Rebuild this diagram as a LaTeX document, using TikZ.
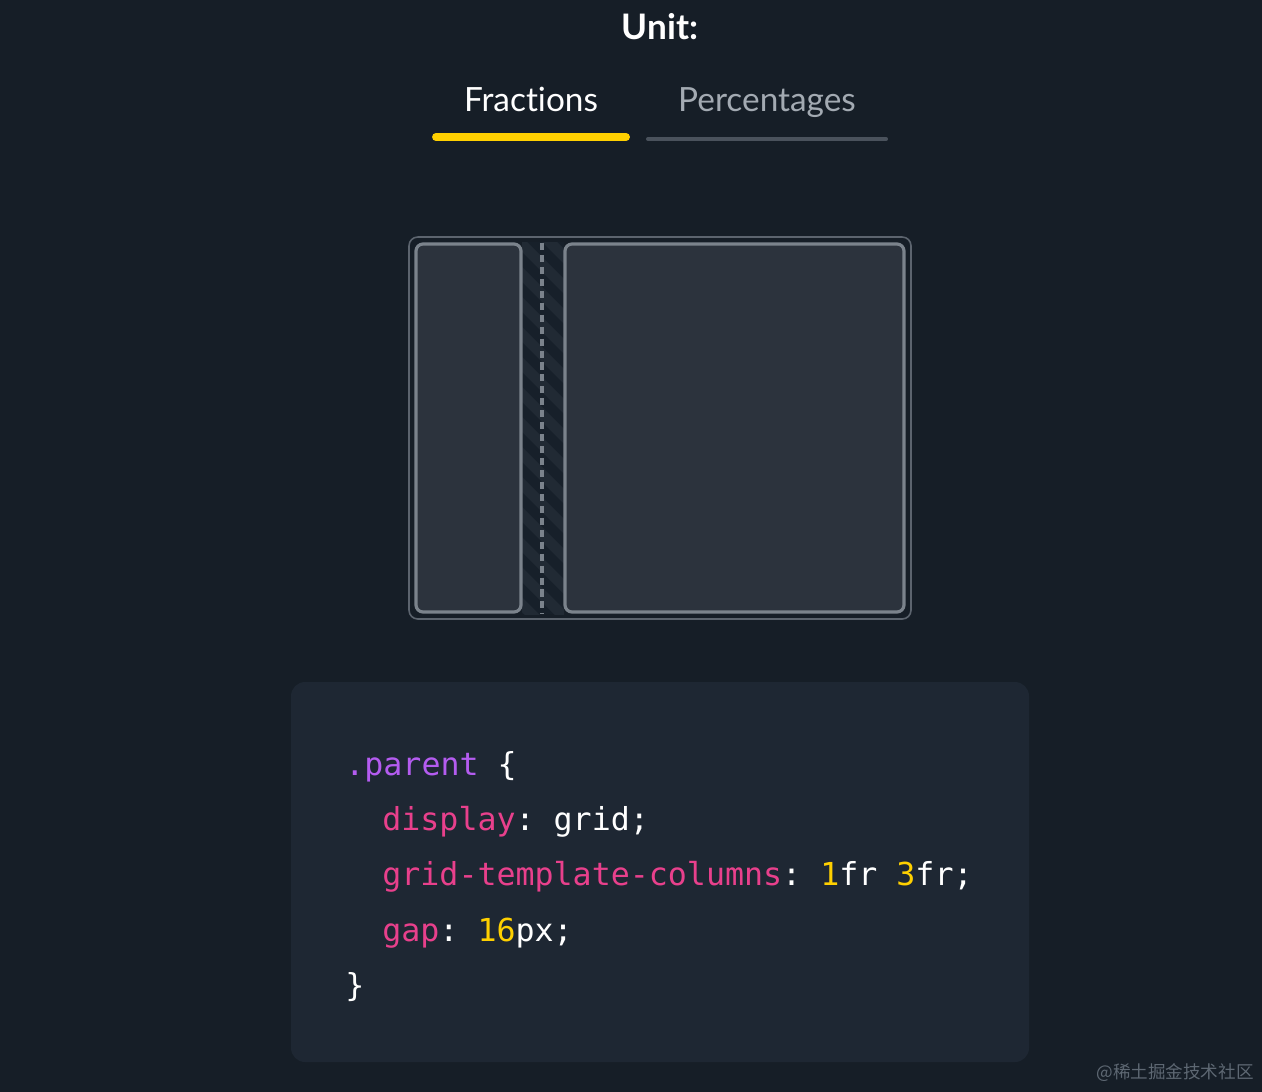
\documentclass[tikz,border=0pt]{standalone}
\usepackage{fontspec}
\setmainfont[Ligatures=NoCommon]{Lato}
\setmonofont{DejaVu Sans Mono}
\newfontfamily\cjkfont{Noto Sans CJK SC}

\definecolor{pagebg}{HTML}{161E27}
\definecolor{codebg}{HTML}{1E2733}
\definecolor{cellfill}{HTML}{2C333D}
\definecolor{cellline}{HTML}{7B838C}
\definecolor{outerline}{HTML}{5C646E}
\definecolor{gapdark}{HTML}{17202A}
\definecolor{gaplight}{HTML}{212A34}
\definecolor{tabyellow}{HTML}{FFD000}
\definecolor{tabgray}{HTML}{4A525C}
\definecolor{mutedtext}{HTML}{A3AAB2}
\definecolor{cssprop}{HTML}{E8408C}
\definecolor{cssclass}{HTML}{B45CF0}
\definecolor{cssnum}{HTML}{FFD000}
\definecolor{markgray}{HTML}{5E6873}

\tikzset{
  cell/.style={draw=cellline, line width=1.8pt, fill=cellfill, rounded corners=4pt},
  tabtext/.style={font=\fontsize{19}{22}\selectfont, anchor=base},
  codeline/.style={font=\ttfamily\fontsize{18}{22}\selectfont, anchor=base west, text=white, inner sep=0},
}

\begin{document}
\begin{tikzpicture}[x=0.02cm, y=-0.02cm]
% page
\fill[pagebg] (0,0) rectangle (1262,1092);
\useasboundingbox (0,0) rectangle (1262,1092);

% heading and tabs
\node[font=\bfseries\fontsize{20}{24}\selectfont, text=white, anchor=base] (unit) at (660,39) {Unit:};
\node[tabtext, text=white] (fractions) at (531,111) {Fractions};
\node[tabtext, text=mutedtext] (percentages) at (767,111) {Percentages};
\draw[tabgray, line width=2.3pt, line cap=round] (648,139) -- (886,139);
\draw[tabyellow, line width=4.5pt, line cap=round] (436,137) -- (626,137);

% grid preview
\draw[outerline, line width=0.9pt, rounded corners=5pt] (409,237) rectangle (911,619);
\begin{scope}
  \clip (522,242) rectangle (564,614);
  \fill[gapdark] (522,242) rectangle (564,614);
  \foreach \k in {0,...,14}
    \fill[gaplight] (500,200+30*\k) -- (515,200+30*\k) -- (595,280+30*\k) -- (580,280+30*\k) -- cycle;
\end{scope}
\draw[cellline, line width=2.3pt, dash pattern=on 4pt off 2.8pt] (542,243) -- (542,614);
\draw[cell] (416,244) rectangle (521,612);
\draw[cell] (565,244) rectangle (904,612);

% code block
\fill[codebg, rounded corners=8pt] (291,682) rectangle (1029,1062);
\node[codeline] (line1) at (345,775) {\textcolor{cssclass}{.parent} \{};
\node[codeline] (line2) at (382,830) {\textcolor{cssprop}{display}: grid;};
\node[codeline] (line3) at (382,885) {\textcolor{cssprop}{grid-template-columns}: \textcolor{cssnum}{1}fr \textcolor{cssnum}{3}fr;};
\node[codeline] (line4) at (382,941) {\textcolor{cssprop}{gap}: \textcolor{cssnum}{16}px;};
\node[codeline] (line5) at (345,996) {\}};

% watermark
\node[font=\cjkfont\fontsize{10}{12}\selectfont, text=markgray, anchor=east, inner sep=0] (mark) at (1254,1073) {@稀土掘金技术社区};
\end{tikzpicture}
\end{document}
